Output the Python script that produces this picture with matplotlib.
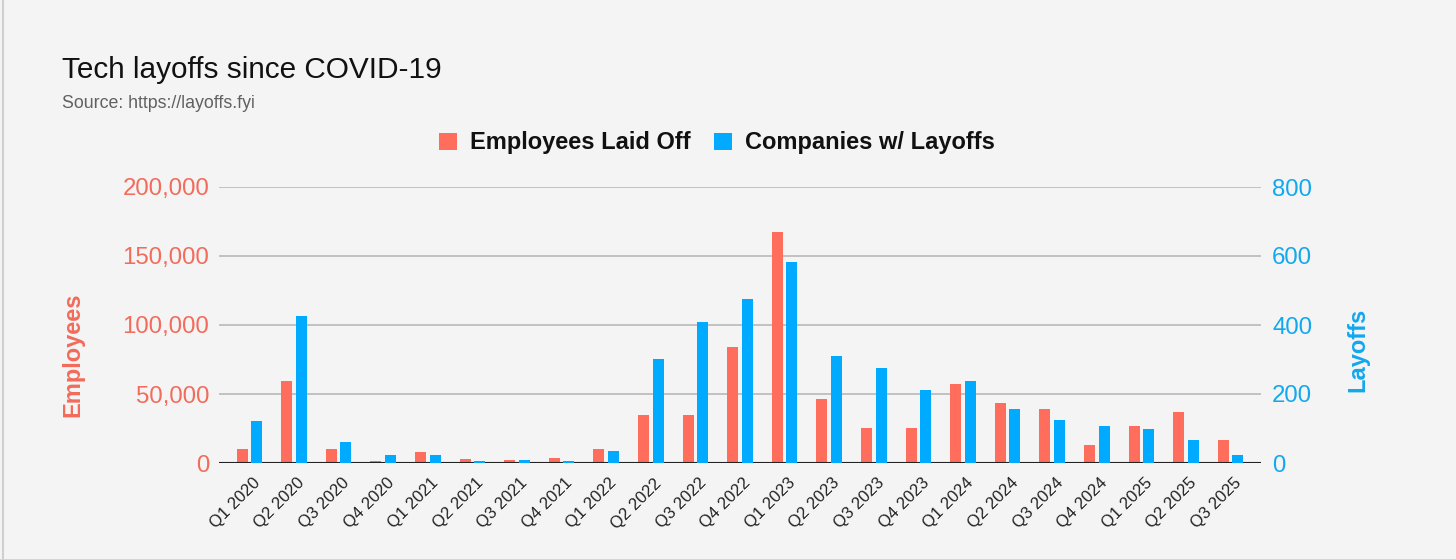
import matplotlib
matplotlib.use("Agg")
import matplotlib.pyplot as plt
from matplotlib.patches import Patch
from matplotlib.lines import Line2D
import matplotlib.transforms as mtransforms
import numpy as np

plt.rcParams['font.family'] = ['Liberation Sans', 'DejaVu Sans']

quarters = ["Q1 2020", "Q2 2020", "Q3 2020", "Q4 2020", "Q1 2021", "Q2 2021", "Q3 2021",
            "Q4 2021", "Q1 2022", "Q2 2022", "Q3 2022", "Q4 2022", "Q1 2023", "Q2 2023",
            "Q3 2023", "Q4 2023", "Q1 2024", "Q2 2024", "Q3 2024", "Q4 2024", "Q1 2025",
            "Q2 2025", "Q3 2025"]
employees = [9900, 59400, 9900, 1400, 7700, 2700, 2500, 3600, 9900, 34500, 34500, 84000,
             167200, 46400, 25100, 25100, 57200, 43300, 38900, 13000, 27000, 36700, 16400]
companies = [122, 427, 61, 23, 23, 6, 8, 6, 35, 302, 410, 474, 582, 311, 276, 212, 238,
             156, 126, 108, 99, 66, 22]
emp_ticks = [0, 50000, 100000, 150000, 200000]
comp_ticks = [0, 200, 400, 600, 800]

RED = '#ff6e5c'
RED_TXT = '#f26b5b'
BLUE = '#00aaff'
BLUE_TXT = '#12a8ee'
BG = '#f4f4f4'

W, H = 1456, 559
fig = plt.figure(figsize=(W / 100, H / 100), dpi=100, facecolor=BG)
ax = fig.add_axes([219 / W, 1 - 463 / H, (1261 - 219) / W, (463 - 187) / H])
ax.set_facecolor(BG)
ax2 = ax.twinx()

x = np.arange(len(quarters))
bw = 0.247
off = 0.163
ax.bar(x - off, employees, width=bw, color=RED, zorder=3)
ax2.bar(x + off, companies, width=bw, color=BLUE, zorder=3)

ax.set_xlim(-0.68, len(quarters) - 1 + 0.68)
ax.set_ylim(0, 200000)
ax2.set_ylim(0, 800)
ax.set_yticks(emp_ticks)
ax.set_yticklabels([f"{v:,}" for v in emp_ticks])
ax2.set_yticks(comp_ticks)
ax2.set_yticklabels([str(v) for v in comp_ticks])

for v in emp_ticks[1:]:
    ax.axhline(v, color='#bdbdbd', lw=1.3, zorder=1)
ax.axhline(0, color='#222222', lw=1.5, zorder=5)

for a in (ax, ax2):
    for s in a.spines.values():
        s.set_visible(False)
    a.tick_params(length=0)

ax.tick_params(axis='y', labelsize=17.3, labelcolor=RED_TXT, pad=7)
ax2.tick_params(axis='y', labelsize=17.3, labelcolor=BLUE_TXT, pad=8)
ax.set_xticks(x)
ax.set_xticklabels(quarters, rotation=45, ha='right', rotation_mode='anchor', fontsize=12)
ax.tick_params(axis='x', pad=9, colors='#222222')
shift = mtransforms.ScaledTranslation(3 / 100, 0, fig.dpi_scale_trans)
for lbl in ax.get_xticklabels():
    lbl.set_transform(lbl.get_transform() + shift)

fig.text(62 / W, 1 - 70 / H, "Tech layoffs since COVID-19", fontsize=21.4, color='#111111',
         va='center', ha='left')
fig.text(62 / W, 1 - 103 / H, "Source: https://layoffs.fyi", fontsize=12.8, color='#616161',
         va='center', ha='left')
fig.text(73 / W, 1 - 355 / H, "Employees", fontsize=17, fontweight='bold', color=RED_TXT,
         rotation=90, va='center', ha='center')
fig.text(1358 / W, 1 - 350 / H, "Layoffs", fontsize=17, fontweight='bold', color=BLUE_TXT,
         rotation=90, va='center', ha='center')

handles = [Patch(facecolor=RED, edgecolor='none'), Patch(facecolor=BLUE, edgecolor='none')]
leg = fig.legend(handles, ["Employees Laid Off", "Companies w/ Layoffs"], loc='center',
                 bbox_to_anchor=(717 / W, 1 - 143 / H), ncol=2, frameon=False,
                 prop={'size': 17, 'weight': 'bold'}, handlelength=0.75, handleheight=0.75,
                 handletextpad=0.55, columnspacing=1.0)
for t in leg.get_texts():
    t.set_color('#111111')

fig.add_artist(Line2D([3 / W, 3 / W], [0, 1], color='#cfcfcf', lw=1.5))

fig.savefig("out.png", dpi=100, facecolor=BG)
